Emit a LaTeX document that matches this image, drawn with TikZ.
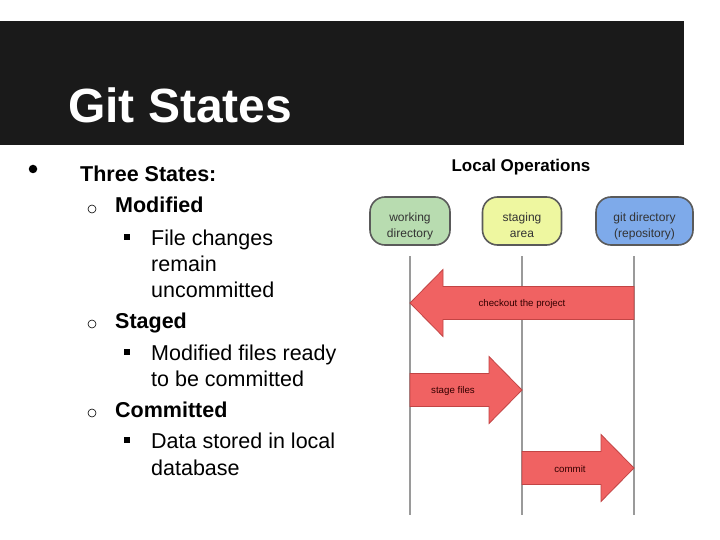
\documentclass[tikz,border=0pt]{standalone}
\usepackage{fontspec}
\setmainfont{Liberation Sans}
\usetikzlibrary{positioning}

\definecolor{bandblack}{HTML}{1A1A1A}
\definecolor{wdgreen}{HTML}{B8DCB0}
\definecolor{sayellow}{HTML}{EEF7A0}
\definecolor{gdblue}{HTML}{7EAAEA}
\definecolor{boxborder}{HTML}{5A5A5A}
\definecolor{arrowred}{HTML}{F06262}
\definecolor{arrowedge}{HTML}{C24444}
\definecolor{lifegrey}{HTML}{9A9A9A}

% one big red operation arrow: tail x, tip x, centre y
\newcommand{\oparrow}[3]{%
    \pgfmathsetmacro\hx{#2-33*sign(#2-#1)}
    \draw[oparrowstyle] (#1,#3-16.5) -- (\hx,#3-16.5) -- (\hx,#3-33.5) -- (#2,#3)
        -- (\hx,#3+33.5) -- (\hx,#3+16.5) -- (#1,#3+16.5) -- cycle;
}
% two centred lines, set a little low in their box
\newcommand{\boxlines}[2]{\raisebox{-5pt}[\height][\depth]{\begin{tabular}{@{}c@{}}#1\\[-1pt]#2\end{tabular}}}

\begin{document}
\begin{tikzpicture}[x=1pt, y=-1pt]
    \tikzset{
        statebox/.style={draw=boxborder, line width=1.6pt, rounded corners=15pt, minimum height=48pt,
            font=\fontsize{12}{17}\selectfont, text=black!80, inner sep=0pt},
        lifeline/.style={draw=lifegrey, line width=1.8pt},
        oparrowstyle/.style={fill=arrowred, draw=arrowedge, line width=0.8pt},
        oplabel/.style={font=\fontsize{9.7}{11}\selectfont, text=black!80!red},
        bodytext/.style={anchor=base west, font=\fontsize{21.5}{26}\selectfont, inner sep=0pt},
        headtext/.style={bodytext, font=\fontsize{21.5}{26}\selectfont\bfseries},
        ring/.style={circle, draw, line width=0.6pt, minimum size=8pt, inner sep=0pt},
        squarebullet/.style={rectangle, fill, minimum size=6pt, inner sep=0pt}
    };
    \useasboundingbox (0,0) rectangle (720,540);
    \fill[white] (0,0) rectangle (720,540);
    % title band
    \fill[bandblack] (0,21) rectangle (684,145);
    \node[anchor=base west, inner sep=0pt, text=white, font=\fontsize{48}{52}\selectfont\bfseries] (title) at (68,123) {Git States};

    % bullet list
    \node[circle, fill, minimum size=8.5pt, inner sep=0pt] (b0) at (33,169) {};
    \node[headtext] (three) at (80,182) {Three States:};
    \node[ring] (b1) at (92,209) {};
    \node[headtext] (modified) at (115,213) {Modified};
    \node[squarebullet] (s1) at (127,237) {};
    \node[bodytext] (mod1) at (151,245) {File changes};
    \node[bodytext] (mod2) at (151,271) {remain};
    \node[bodytext] (mod3) at (151,297) {uncommitted};
    \node[ring] (b2) at (92,324) {};
    \node[headtext] (staged) at (115,328) {Staged};
    \node[squarebullet] (s2) at (127,352) {};
    \node[bodytext] (stg1) at (151,360) {Modified files ready};
    \node[bodytext] (stg2) at (151,386) {to be committed};
    \node[ring] (b3) at (92,413) {};
    \node[headtext] (committed) at (115,417) {Committed};
    \node[squarebullet] (s3) at (127,440) {};
    \node[bodytext] (com1) at (151,448) {Data stored in local};
    \node[bodytext] (com2) at (151,475) {database};

    % local operations diagram
    \node[font=\fontsize{17}{20}\selectfont\bfseries, anchor=base] (ops) at (521,172) {Local Operations};
    \node[statebox, fill=wdgreen, minimum width=80pt] (wd) at (410,221) {\boxlines{working}{directory}};
    \node[statebox, fill=sayellow, minimum width=79pt] (sa) at (522,221) {\boxlines{staging}{area}};
    \node[statebox, fill=gdblue, minimum width=97pt] (gd) at (644.5,221) {\boxlines{git directory}{(repository)}};

    \coordinate (wdtop) at (410,256);
    \coordinate (wdbot) at (410,515);
    \coordinate (satop) at (522,256);
    \coordinate (sabot) at (522,515);
    \coordinate (gdtop) at (634,256);
    \coordinate (gdbot) at (634,515);
    \draw[lifeline] (wdtop) -- (wdbot);
    \draw[lifeline] (satop) -- (sabot);
    \draw[lifeline] (gdtop) -- (gdbot);

    \oparrow{634}{410}{303}
    \node[oplabel] (checkout) at (522,304) {checkout the project};
    \oparrow{410}{522}{390}
    \node[oplabel] (stage) at (453,391) {stage files};
    \oparrow{522}{634}{468}
    \node[oplabel] (commit) at (570,469) {commit};
\end{tikzpicture}
\end{document}
